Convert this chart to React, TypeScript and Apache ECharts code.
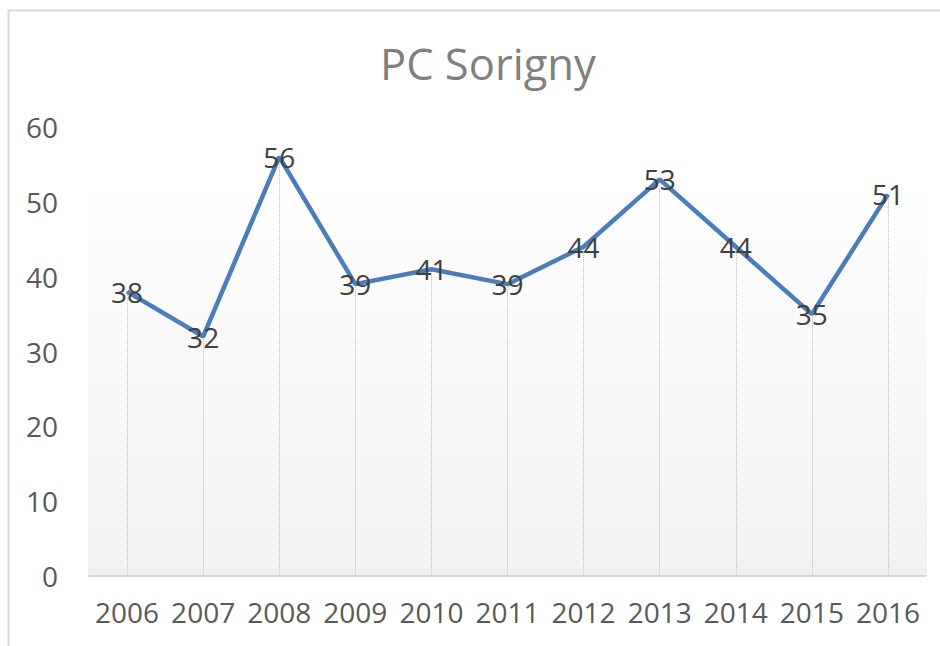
import React, { useEffect, useRef } from "react";
import * as echarts from "echarts";

const categories = ["2006", "2007", "2008", "2009", "2010", "2011", "2012", "2013", "2014", "2015", "2016"];
const values = [38, 32, 56, 39, 41, 39, 44, 53, 44, 35, 51];
const titleText = "PC Sorigny";
const yMin = 0;
const yMax = 60;
const yInterval = 10;

const FONT = "'Open Sans', sans-serif";

export default function App() {
  const ref = useRef<HTMLDivElement>(null);
  useEffect(() => {
    if (!ref.current) return;
    const chart = echarts.init(ref.current, undefined, { renderer: "svg" });
    const dropLines = values.map((v, i) => [
      { coord: [i, 0] },
      { coord: [i, v] },
    ]);
    chart.setOption({
      animation: false,
      backgroundColor: "#ffffff",
      title: {
        text: titleText,
        left: 375,
        top: 36,
        textStyle: { color: "#7f7f7f", fontSize: 43.5, fontWeight: "normal", fontFamily: FONT },
      },
      graphic: [
        {
          type: "rect",
          z: -10,
          shape: { x: 8.5, y: 10.5, width: 1000, height: 1000 },
          style: { fill: "none", stroke: "#d9d9d9", lineWidth: 2 },
          silent: true,
        },
        {
          type: "rect",
          z: -5,
          shape: { x: 88, y: 178, width: 839, height: 398 },
          style: {
            fill: new echarts.graphic.LinearGradient(0, 0, 0, 1, [
              { offset: 0, color: "#ffffff" },
              { offset: 1, color: "#f1f1f1" },
            ]),
          },
          silent: true,
        },
      ],
      grid: { left: 89, right: 14, top: 127, bottom: 70 },
      xAxis: {
        type: "category",
        data: categories,
        boundaryGap: true,
        axisLine: { lineStyle: { color: "#d9d9d9", width: 2 } },
        axisTick: { show: false },
        axisLabel: { color: "#595959", fontSize: 28, fontFamily: FONT, margin: 22, interval: 0 },
        splitLine: { show: false },
      },
      yAxis: {
        type: "value",
        min: yMin,
        max: yMax,
        interval: yInterval,
        axisLine: { show: false },
        axisTick: { show: false },
        splitLine: { show: false },
        axisLabel: { color: "#595959", fontSize: 28, fontFamily: FONT, margin: 31 },
      },
      series: [
        {
          type: "line",
          data: values,
          symbol: "circle",
          symbolSize: 1,
          showSymbol: true,
          itemStyle: { color: "#4a7ebb" },
          lineStyle: { color: "#4a7ebb", width: 4.5 },
          label: {
            show: true,
            position: "inside",
            color: "#404040",
            fontSize: 28,
            fontFamily: FONT,
          },
          labelLayout: { hideOverlap: false },
          markLine: {
            silent: true,
            symbol: "none",
            label: { show: false },
            lineStyle: { color: "#c0c0c0", type: "dotted", width: 1 },
            data: dropLines,
            z: 1,
          },
          z: 3,
        },
      ],
    });
    return () => chart.dispose();
  }, []);
  return (
    <div
      ref={ref}
      style={{ position: "fixed", left: 0, top: 0, width: 940, height: 646 }}
    />
  );
}
